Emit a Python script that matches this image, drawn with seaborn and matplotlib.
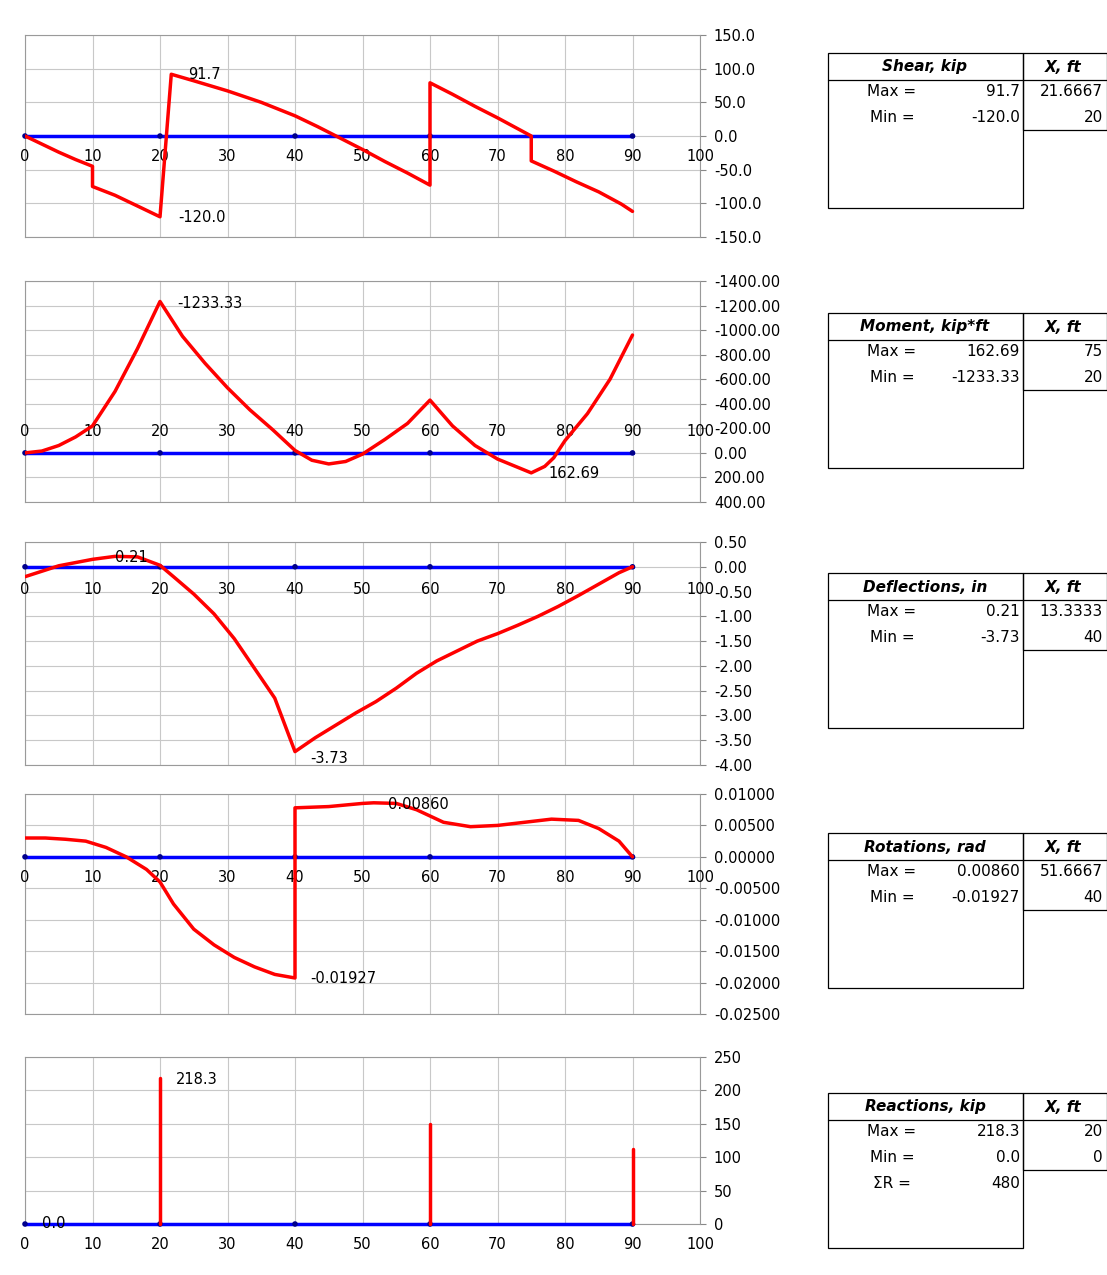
import numpy as np
import pandas as pd
import seaborn as sns
import matplotlib.pyplot as plt
from matplotlib.patches import Rectangle

# ---- data ----
shear_x = [0, 2.5, 5, 7.5, 10, 10, 13.33, 16.67, 20, 21.67, 25, 30, 35, 40, 43.33, 46.67, 50, 53.33, 56.67, 60, 60,
           63.33, 66.67, 70, 75, 75, 78.33, 81.67, 85, 88.33, 90]
shear_y = [0, -12, -24, -35, -45, -75, -88, -104, -120, 91.7, 82, 67, 50, 30, 14, -3, -20, -38, -55, -73, 79,
           62, 44, 27, 0, -37, -52, -68, -83, -101, -112]

moment_x = [0, 2.5, 5, 7.5, 10, 13.33, 16.67, 20, 23.33, 26.67, 30, 33.33, 36.67, 40, 42.5, 45, 47.5, 50,
            53.33, 56.67, 60, 63.33, 66.67, 70, 73.33, 75, 77, 78.33, 80, 83.33, 86.67, 90]
moment_y = [0, -15, -60, -130, -220, -500, -850, -1233.33, -950, -730, -530, -350, -190, -20, 60, 90, 70, 10,
            -110, -240, -430, -220, -60, 50, 125, 162.69, 110, 40, -100, -320, -600, -960]

defl_x = [0, 5, 10, 13.33, 16.67, 20, 22, 25, 28, 31, 34, 37, 40, 43, 46, 49, 52, 55, 58, 61, 64, 67, 70,
          73, 76, 79, 82, 85, 88, 90]
defl_y = [-0.2, 0.02, 0.15, 0.21, 0.2, 0.03, -0.2, -0.55, -0.95, -1.45, -2.05, -2.65, -3.73, -3.45, -3.2,
          -2.95, -2.72, -2.45, -2.15, -1.9, -1.7, -1.5, -1.35, -1.18, -1.0, -0.8, -0.58, -0.35, -0.12, 0]

rot_x = [0, 3, 6, 9, 12, 15, 18, 20, 22, 25, 28, 31, 34, 37, 40, 40, 45, 50, 51.67, 55, 58, 62, 66, 70,
         74, 78, 82, 85, 88, 90]
rot_y = [0.003, 0.003, 0.0028, 0.0025, 0.0015, 0.0, -0.002, -0.004, -0.0075, -0.0115, -0.014, -0.016, -0.0175,
         -0.0187, -0.01927, 0.0078, 0.008, 0.0085, 0.0086, 0.0085, 0.0075, 0.0055, 0.0048, 0.005, 0.0055, 0.006,
         0.0058, 0.0045, 0.0025, 0.0]

react_x = [20, 60, 90]
react_y = [218.3, 150.0, 111.7]

support_x = [0, 20, 40, 60, 90]

tables = [
    ("Shear, kip", [("Max =", "91.7", "21.6667"), ("Min =", "-120.0", "20")]),
    ("Moment, kip*ft", [("Max =", "162.69", "75"), ("Min =", "-1233.33", "20")]),
    ("Deflections, in", [("Max =", "0.21", "13.3333"), ("Min =", "-3.73", "40")]),
    ("Rotations, rad", [("Max =", "0.00860", "51.6667"), ("Min =", "-0.01927", "40")]),
    ("Reactions, kip", [("Max =", "218.3", "20"), ("Min =", "0.0", "0"), ("\u03a3R =", "480", None)]),
]

W, H = 1107, 1275
sns.set_style("white")
plt.rcParams['font.family'] = ['DejaVu Sans']
plt.rcParams['text.color'] = 'black'
plt.rcParams['ytick.color'] = 'black'
plt.rcParams['ytick.labelcolor'] = 'black'
fig = plt.figure(figsize=(W / 100, H / 100), dpi=100)

def fx(px):
    return px / W

def fy(py):
    return 1 - py / H

# panels: (top px, bottom px, ylim, step, fmt, inverted, xlabel y value)
panels = [
    (35, 237, (-150, 150), 50, "{:.1f}", False, -31),
    (281, 502, (-1400, 400), 200, "{:.2f}", True, -171),
    (542, 765, (-4, 0.5), 0.5, "{:.2f}", False, -0.46),
    (794, 1014, (-0.025, 0.01), 0.005, "{:.5f}", False, -0.0033),
    (1057, 1224, (0, 250), 50, "{:.0f}", False, -31),
]
series = [(shear_x, shear_y), (moment_x, moment_y), (defl_x, defl_y), (rot_x, rot_y), None]
notes = [
    [(24.1, 91, "91.7", "left"), (22.7, -121, "-120.0", "left")],
    [(22.5, -1213, "-1233.33", "left"), (77.6, 171, "162.69", "left")],
    [(15.7, 0.19, "0.21", "center"), (42.2, -3.87, "-3.73", "left")],
    [(53.8, 0.0084, "0.00860", "left"), (42.2, -0.0194, "-0.01927", "left")],
    [(22.4, 217, "218.3", "left"), (2.5, 0, "0.0", "left")],
]

for i, (top, bot, ylim, step, fmt, inv, xly) in enumerate(panels):
    ax = fig.add_axes([fx(25), fy(bot), fx(700 - 25), (bot - top) / H])
    ax.set_xlim(0, 100)
    ax.set_ylim(ylim)
    if inv:
        ax.invert_yaxis()
    yt = np.arange(ylim[0], ylim[1] + step / 2, step)
    ax.set_yticks(yt)
    ax.set_yticklabels([fmt.format(v + 0.0) for v in yt], fontsize=10.5)
    ax.yaxis.tick_right()
    ax.tick_params(axis='y', length=4, color='#888888', pad=6)
    ax.set_xticks(np.arange(0, 101, 10))
    ax.set_xticklabels([])
    ax.tick_params(axis='x', length=0)
    ax.grid(True, color='#c8c8c8', linewidth=0.8)
    for s in ax.spines.values():
        s.set_color('#9a9a9a')
        s.set_linewidth(0.8)
    for xv in range(0, 101, 10):
        ax.text(xv, xly, str(xv), ha='center', va='center', fontsize=10.5, clip_on=False)

    sns.lineplot(x=[0, 90], y=[0, 0], ax=ax, color='#0000ff', linewidth=2.5, zorder=3,
                 estimator=None, sort=False)
    sns.scatterplot(x=support_x, y=[0] * len(support_x), ax=ax, color='#00008b', s=16, zorder=4,
                    edgecolor='none', clip_on=False)
    if series[i] is not None:
        sx, sy = series[i]
        df = pd.DataFrame({"x": sx, "y": sy})
        sns.lineplot(data=df, x="x", y="y", ax=ax, sort=False, estimator=None, color='#ff0000',
                     linewidth=2.5, zorder=5)
    else:
        for rx, ry in zip(react_x, react_y):
            sns.lineplot(x=[rx, rx], y=[0, ry], ax=ax, color='#ff0000', linewidth=2.5, zorder=5,
                         estimator=None, sort=False)
        for ln in ax.lines:
            ln.set_clip_on(False)
    ax.set_xlabel("")
    ax.set_ylabel("")
    for nx, ny, txt, ha in notes[i]:
        ax.text(nx, ny, txt, ha=ha, va='center', fontsize=10.5, zorder=6)

# tables
tops = [53, 313, 573, 833, 1093]
for t0, (head, rows) in zip(tops, tables):
    fig.add_artist(Rectangle((fx(828), fy(t0 + 155)), fx(1023 - 828), 155 / H, fill=False,
                             edgecolor='black', linewidth=0.9, transform=fig.transFigure))
    fig.add_artist(Rectangle((fx(1023), fy(t0 + 77)), fx(1107 - 1023), 77 / H, fill=False,
                             edgecolor='black', linewidth=0.9, transform=fig.transFigure))
    fig.add_artist(plt.Line2D([fx(828), fx(1107)], [fy(t0 + 27), fy(t0 + 27)], color='black',
                              linewidth=0.9, transform=fig.transFigure))
    fig.text(fx(925), fy(t0 + 14), head, ha='center', va='center', fontsize=11,
             fontweight='bold', fontstyle='italic')
    fig.text(fx(1063), fy(t0 + 14), "X, ft", ha='center', va='center', fontsize=11,
             fontweight='bold', fontstyle='italic')
    for k, (lab, val, xv) in enumerate(rows):
        yy = fy(t0 + 39 + 26 * k)
        fig.text(fx(892), yy, lab, ha='center', va='center', fontsize=11)
        fig.text(fx(1020), yy, val, ha='right', va='center', fontsize=11)
        if xv is not None:
            fig.text(fx(1103), yy, xv, ha='right', va='center', fontsize=11)

fig.savefig("out.png", dpi=100)
